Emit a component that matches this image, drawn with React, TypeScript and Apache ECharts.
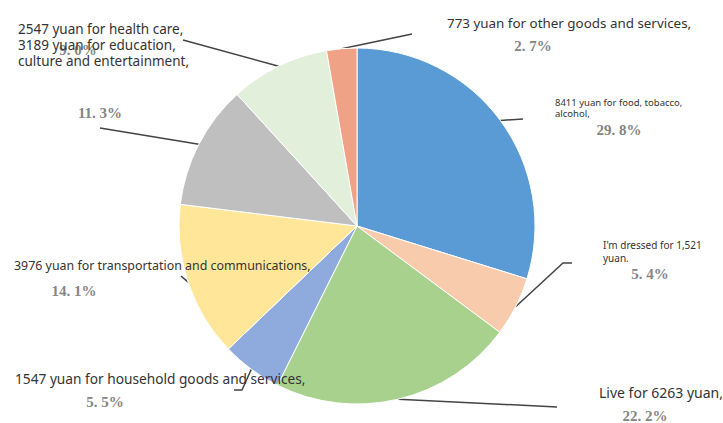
import React, { useEffect, useRef } from "react";
import * as echarts from "echarts";

// ---- data ----
const categories = [
  "Food, tobacco, alcohol",
  "Clothing",
  "Living",
  "Household goods and services",
  "Transportation and communications",
  "Education, culture and entertainment",
  "Health care",
  "Other goods and services",
];
const values = [8411, 1521, 6263, 1547, 3976, 3189, 2547, 773];
const labelTexts = [
  "8411 yuan for food, tobacco,\nalcohol,",
  "I'm dressed for 1,521\nyuan.",
  "Live for 6263 yuan,",
  "1547 yuan for household goods and services,",
  "3976 yuan for transportation and communications,",
  "",
  "2547 yuan for health care,\n3189 yuan for education,\nculture and entertainment,",
  "773 yuan for other goods and services,",
];

// ---- styles / layout ----
const colors = ["#5B9BD5", "#F8CBAD", "#A9D18E", "#8FAADC", "#FFE699", "#BFBFBF", "#E2EFDA", "#F0A286"];
const textPos: (number[] | null)[] = [[555, 97], [603, 238], [599, 384], [15, 370], [14, 257], null, [18, 21], [447, 15]];
const textFont = [9.5, 10, 14, 13.7, 12.4, 13, 13.5, 13.4];
const textLineHeight = [11, 13, 16, 16, 16, 16, 16, 16];
const pctPos = [[619, 130], [650, 274], [645, 416], [105, 402], [74, 291], [100, 113], [78, 50], [533, 46]];
const guides: number[][][] = [
  [[523, 119]],
  [[563, 263], [572, 263]],
  [[557, 407]],
  [[242, 390], [234, 390]],
  [[181, 276]],
  [[100, 128]],
  [[183, 40]],
  [[412, 34]],
];

function linePts(start: number[] | undefined, i: number) {
  const pts = [start || guides[i][0], ...guides[i]];
  while (pts.length < 3) pts.push(pts[pts.length - 1]);
  return pts;
}

export default function App() {
  const ref = useRef<HTMLDivElement>(null);
  useEffect(() => {
    if (!ref.current) return;
    const chart = echarts.init(ref.current, undefined, { renderer: "svg" });
    const center = [357, 226];
    const radius = 178;
    chart.setOption({
      animation: false,
      backgroundColor: "#ffffff",
      series: [
        {
          type: "pie",
          z: 1,
          silent: true,
          center,
          radius,
          avoidLabelOverlap: false,
          itemStyle: { color: "rgba(0,0,0,0)", borderWidth: 0 },
          label: {
            show: true,
            position: "outside",
            formatter: (p: any) => {
              const s = p.percent.toFixed(1).split(".");
              return s[0] + ". " + s[1] + "%";
            },
            fontFamily: "Liberation Serif",
            fontWeight: "bold",
            fontSize: 15,
            color: "#858585",
          },
          labelLine: { show: false, lineStyle: { color: "#444", width: 1.5 }, smooth: 0 },
          labelLayout: (p: any) => {
            const i = p.dataIndex;
            const res: any = { x: pctPos[i][0], y: pctPos[i][1], align: "center", verticalAlign: "middle" };
            if (i === 5) res.labelLinePoints = linePts(p.labelLinePoints && p.labelLinePoints[0], i);
            return res;
          },
          data: categories.map((name, i) => ({
            name,
            value: values[i],
            labelLine: i === 5 ? { show: true, length: 10, length2: 10 } : { show: false },
          })),
        },
        {
          type: "pie",
          z: 2,
          silent: true,
          center,
          radius,
          avoidLabelOverlap: false,
          itemStyle: { borderColor: "#ffffff", borderWidth: 1 },
          label: {
            show: true,
            position: "outside",
            fontFamily: "Noto Sans",
            color: "#333333",
            fontSize: 13,
          },
          labelLine: { show: true, length: 10, length2: 10, smooth: 0, lineStyle: { color: "#444", width: 1.5 } },
          labelLayout: (p: any) => {
            const i = p.dataIndex;
            const pos = textPos[i];
            if (!pos) return {};
            return {
              x: pos[0],
              y: pos[1],
              align: "left",
              verticalAlign: "top",
              labelLinePoints: linePts(p.labelLinePoints && p.labelLinePoints[0], i),
            };
          },
          data: categories.map((name, i) => ({
            name,
            value: values[i],
            itemStyle: { color: colors[i] },
            label:
              labelTexts[i] === ""
                ? { show: false }
                : { formatter: labelTexts[i], fontSize: textFont[i], lineHeight: textLineHeight[i] },
            labelLine: labelTexts[i] === "" ? { show: false } : { show: true },
          })),
        },
      ],
    });
    return () => chart.dispose();
  }, []);
  return (
    <div
      ref={ref}
      style={{ position: "absolute", left: 0, top: 0, width: 723, height: 423, background: "#fff" }}
    />
  );
}
